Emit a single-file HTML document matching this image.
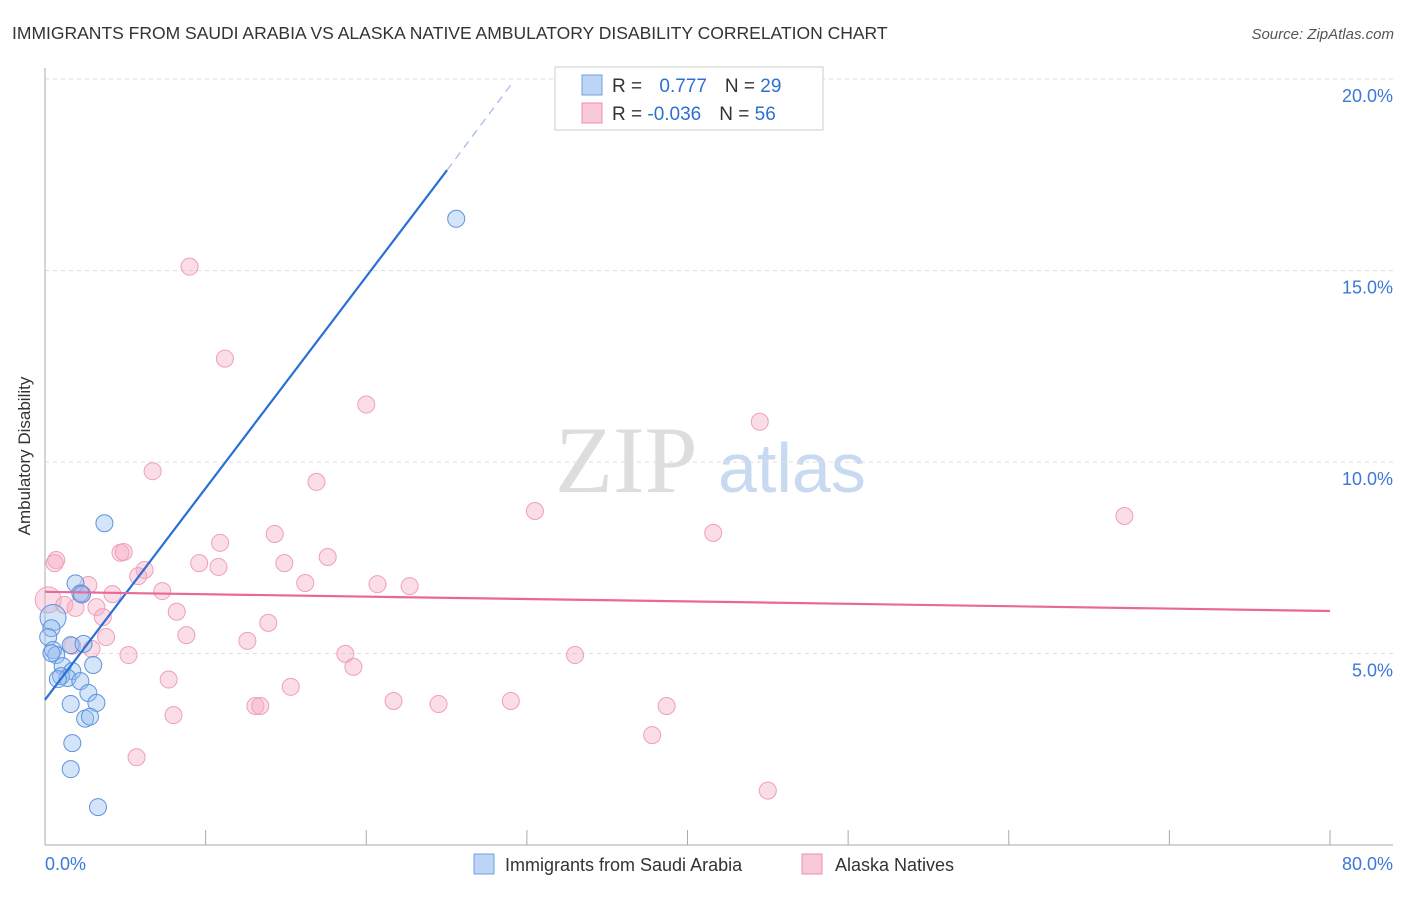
<!DOCTYPE html>
<html><head><meta charset="utf-8"><style>
body{margin:0;background:#fff;font-family:"Liberation Sans",sans-serif}
</style></head><body>
<svg width="1406" height="892" id="c" xmlns="http://www.w3.org/2000/svg" font-family="Liberation Sans, sans-serif">
<text x="12" y="39" font-size="17.5" fill="#333">IMMIGRANTS FROM SAUDI ARABIA VS ALASKA NATIVE AMBULATORY DISABILITY CORRELATION CHART</text>
<text x="1394" y="39" font-size="15" fill="#555" font-style="italic" text-anchor="end">Source: ZipAtlas.com</text>
<text x="30" y="456" font-size="17" fill="#333" transform="rotate(-90 30 456)" text-anchor="middle">Ambulatory Disability</text>
<text x="555" y="492" font-size="95" fill="#ddd" font-family="Liberation Serif, serif">ZIP</text>
<text x="718" y="492" font-size="70" fill="#c8daf2">atlas</text>
<g id="grid"></g><g id="pts"></g><g id="lines"></g>
<g>
<rect x="555" y="67" width="268" height="63" fill="#fff" stroke="#ccc"/>
<rect x="582" y="75" width="20" height="20" fill="#bcd4f5" stroke="#6fa0e0"/>
<rect x="582" y="103" width="20" height="20" fill="#f9c9d7" stroke="#ec8fae"/>
<text x="612" y="92" font-size="19" fill="#333">R = <tspan fill="#2f6fd0" dx="12">0.777</tspan><tspan dx="18" fill="#333">N = </tspan><tspan fill="#2f6fd0">29</tspan></text>
<text x="612" y="120" font-size="19" fill="#333">R = <tspan fill="#2f6fd0">-0.036</tspan><tspan dx="18" fill="#333">N = </tspan><tspan fill="#2f6fd0">56</tspan></text>
</g>
<g>
<rect x="474" y="854" width="20" height="20" fill="#bcd4f5" stroke="#6fa0e0"/>
<text x="505" y="871" font-size="18" fill="#333">Immigrants from Saudi Arabia</text>
<rect x="802" y="854" width="20" height="20" fill="#f9c9d7" stroke="#ec8fae"/>
<text x="835" y="871" font-size="18" fill="#333">Alaska Natives</text>
</g>
</svg>
<script>
const xTicks=[0,10,20,30,40,50,60,70,80];
const yTicks=[5,10,15,20];
const yTickLabels=["5.0%","10.0%","15.0%","20.0%"];
const blueX=[25.6,3.7,1.9,2.2,2.3,0.5,0.4,0.2,0.5,0.7,0.4,1.6,2.4,3.0,1.1,1.7,1.0,1.4,0.8,2.2,2.7,3.2,1.6,2.5,2.8,1.7,1.6,3.3];
const blueY=[16.35,8.4,6.83,6.57,6.54,5.94,5.66,5.43,5.09,4.96,5.01,5.22,5.25,4.7,4.67,4.54,4.41,4.36,4.33,4.28,3.97,3.71,3.68,3.3,3.35,2.66,1.98,0.99];
const pinkX=[9.0,11.2,20.0,44.5,6.7,16.9,30.5,67.2,41.6,14.3,10.9,4.7,4.9,0.7,0.6,17.6,9.6,14.9,10.8,6.2,5.8,16.2,20.7,22.7,2.7,7.3,4.2,0.2,2.3,1.2,3.2,1.9,8.2,3.6,13.9,8.8,3.8,12.6,1.7,2.9,5.2,18.7,33.0,19.2,7.7,15.3,21.7,13.1,13.4,24.5,29.0,38.7,8.0,37.8,5.7,45.0];
const pinkY=[15.1,12.7,11.5,11.05,9.76,9.48,8.72,8.59,8.15,8.12,7.89,7.63,7.65,7.44,7.36,7.52,7.36,7.36,7.26,7.18,7.02,6.84,6.81,6.76,6.79,6.63,6.55,6.4,6.56,6.27,6.21,6.19,6.09,5.95,5.8,5.48,5.43,5.33,5.2,5.12,4.96,4.99,4.96,4.65,4.32,4.13,3.76,3.63,3.63,3.68,3.76,3.63,3.39,2.87,2.29,1.42];
const blueLine=[0,3.79,25.03,17.62,29.1,19.9];
const pinkLine=[0,6.61,80,6.11];
const NS="http://www.w3.org/2000/svg";
const X=v=>45+v/80*1285, Y=v=>845-v/20*766;
function mk(t,a,p){const e=document.createElementNS(NS,t);for(const k in a)e.setAttribute(k,a[k]);p.appendChild(e);return e;}
const grid=document.getElementById('grid');
yTicks.forEach((t,i)=>{
 const l=mk('line',{x1:45,x2:1393,y1:Y(t),y2:Y(t),stroke:'#ddd','stroke-dasharray':'4,4'},grid);
 
 
 const tx=mk('text',{x:1393,y:Y(t)+23,'font-size':18,fill:'#3b78d8','text-anchor':'end'},grid);
 tx.textContent=yTickLabels[i];
 
 
});
const ax=mk('line',{x1:45,x2:45,y1:68,y2:845,stroke:'#aaa'},grid);


const bx=mk('line',{x1:45,x2:1393,y1:845,y2:845,stroke:'#aaa'},grid);


for(let v=0;v<=80;v+=10){
 const t=mk('line',{x1:X(v),x2:X(v),y1:830,y2:845,stroke:'#aaa'},grid);
 
 
}
[[0,"0.0%","start",45],[80,"80.0%","end",1393]].forEach(d=>{
 const t=mk('text',{x:d[3],y:870,'font-size':18,fill:'#3b78d8','text-anchor':d[2]},grid);
 t.textContent=d[1];
 
 
});
const pts=document.getElementById('pts');
pinkX.forEach((x,i)=>{
 const c=mk('circle',{cx:X(x),cy:Y(pinkY[i]),r:i==27?13:8.5,fill:'rgba(246,170,195,0.4)',stroke:'#ef9fba','stroke-width':1},pts);
 
 
});
blueX.forEach((x,i)=>{
 const c=mk('circle',{cx:X(x),cy:Y(blueY[i]),r:i==5?13:8.5,fill:'rgba(150,190,240,0.4)',stroke:'#5e93dc','stroke-width':1},pts);
 
 
});
const L=document.getElementById('lines');
let a=mk('line',{x1:X(blueLine[0]),y1:Y(blueLine[1]),x2:X(blueLine[2]),y2:Y(blueLine[3]),stroke:'#2a6fd6','stroke-width':2.2},L);


a=mk('line',{x1:X(blueLine[2]),y1:Y(blueLine[3]),x2:X(blueLine[4]),y2:Y(blueLine[5]),stroke:'#9bb8e6','stroke-width':1.2,'stroke-dasharray':'8,6'},L);


a=mk('line',{x1:X(pinkLine[0]),y1:Y(pinkLine[1]),x2:X(pinkLine[2]),y2:Y(pinkLine[3]),stroke:'#e8689a','stroke-width':2.2},L);


</script>
</body></html>
